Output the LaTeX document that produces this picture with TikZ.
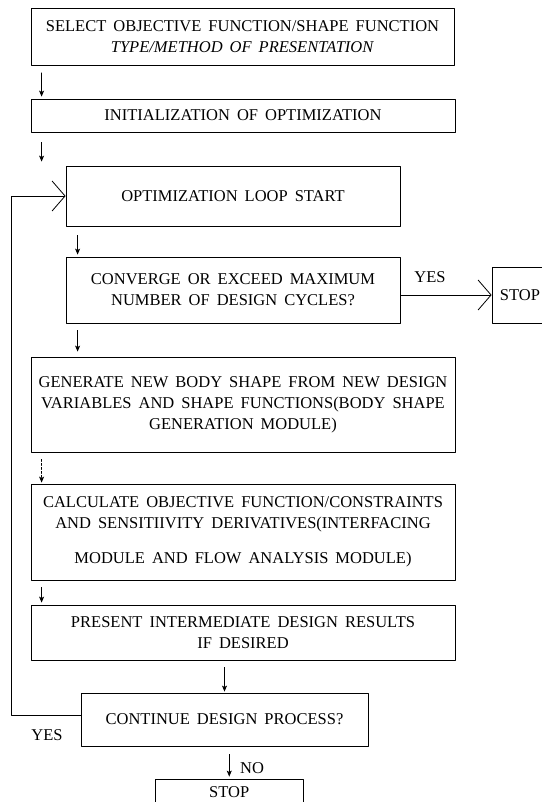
\documentclass[tikz,border=0pt]{standalone}
\usepackage{fontspec}
\setmainfont{Liberation Serif}[WordSpace=1.7]
\usetikzlibrary{arrows.meta}

\tikzset{
  box/.style={draw, line width=0.8bp, inner sep=0pt, align=center,
    font=\fontsize{16.5bp}{21bp}\selectfont},
  flow/.style={line width=0.7bp, -{Stealth[length=6bp,width=5bp,inset=1.5bp]}},
  bigflow/.style={line width=0.8bp, -{Straight Barb[length=13bp,width=30bp]}},
  lbl/.style={font=\fontsize{16.5bp}{20bp}\selectfont, inner sep=0pt}
}

\begin{document}
\begin{tikzpicture}[x=1bp, y=-1bp, line cap=round, line join=round]
  \useasboundingbox (0,0) rectangle (542,802);
  \coordinate (rail) at (11,0);

  \node[box, minimum width=423bp, minimum height=57bp] (sel) at (242.5,37)
    {SELECT OBJECTIVE FUNCTION/SHAPE FUNCTION\\ \textit{TYPE/METHOD OF PRESENTATION}};
  \node[box, minimum width=424bp, minimum height=33bp] (init) at (243,115.5)
    {INITIALIZATION OF OPTIMIZATION};
  \node[box, minimum width=334bp, minimum height=60bp] (loop) at (233,196)
    {OPTIMIZATION LOOP START};
  \node[box, minimum width=334bp, minimum height=66bp] (conv) at (233,290)
    {CONVERGE OR EXCEED MAXIMUM\\ NUMBER OF DESIGN CYCLES?};
  \node[box, minimum width=56bp, minimum height=56bp] (stopA) at (520,295) {STOP};
  \node[box, minimum width=424bp, minimum height=95bp] (gen) at (243,404.5)
    {GENERATE NEW BODY SHAPE FROM NEW DESIGN\\ VARIABLES AND SHAPE FUNCTIONS(BODY SHAPE\\ GENERATION MODULE)};
  \node[box, minimum width=424bp, minimum height=96bp] (calc) at (243,532)
    {CALCULATE OBJECTIVE FUNCTION/CONSTRAINTS\\ AND SENSITIIVITY DERIVATIVES(INTERFACING\\[14bp] MODULE AND FLOW ANALYSIS MODULE)};
  \node[box, minimum width=424bp, minimum height=55bp] (pres) at (243,632.5)
    {PRESENT INTERMEDIATE DESIGN RESULTS\\ IF DESIRED};
  \node[box, minimum width=287bp, minimum height=53bp] (cont) at (224.5,719.5)
    {CONTINUE DESIGN PROCESS?};
  \node[box, minimum width=147.5bp, minimum height=27bp] (stopB) at (229.25,792.5) {STOP};

  % short arrows down the left side
  \foreach \a/\b/\dx/\gs/\ge in {sel/init/11/7/2, init/loop/11/10/4, loop/conv/12/9/2,
      conv/gen/12/7/5, calc/pres/11/7/2}{
    \draw[flow] ([xshift=\dx bp, yshift=-\gs bp]\a.south west)
      -- ([xshift=\dx bp, yshift=\ge bp]\a.south west |- \b.north);
  }
  \draw[flow, dash pattern=on 2bp off 2bp] ([xshift=11bp, yshift=-7bp]gen.south west)
    -- ([xshift=11bp, yshift=1bp]gen.south west |- calc.north);
  \draw[flow] ([yshift=-7bp]pres.south -| cont.north) -- ([yshift=1bp]cont.north);
  \draw[flow] ([yshift=-8bp]cont.south -| stopB.north) -- ([yshift=2bp]stopB.north);

  \draw[bigflow] (conv.east |- stopA.west) -- (stopA.west);
  \draw[bigflow] ([yshift=4bp]cont.west) -- ([yshift=4bp]cont.west -| rail) |- (loop.west);

  \node[lbl] (yesA) at (430,277) {YES};
  \node[lbl] (yesB) at (47,735) {YES};
  \node[lbl] (no) at (252,768) {NO};
\end{tikzpicture}
\end{document}
